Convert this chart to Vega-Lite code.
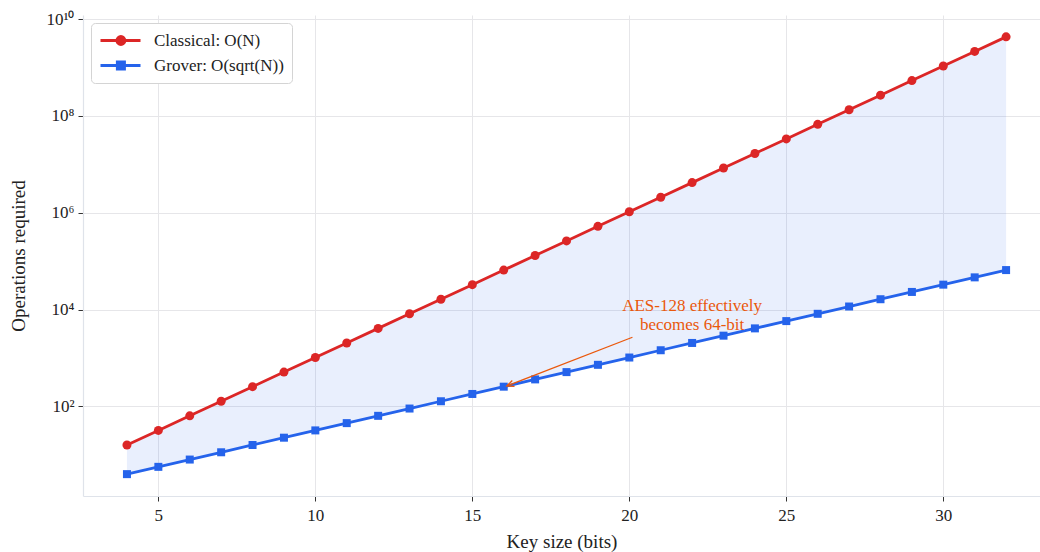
{
  "$schema": "https://vega.github.io/schema/vega-lite/v6.json",
  "width": 957,
  "height": 481,
  "autosize": {"type": "none"},
  "padding": {"left": 83, "top": 15, "right": 0, "bottom": 56},
  "background": "white",
  "config": {
    "font": "Liberation Serif",
    "view": {"stroke": null},
    "axis": {
      "domainColor": "#dfe3ea",
      "domainWidth": 1.2,
      "gridColor": "#e6e6e9",
      "gridWidth": 1,
      "tickColor": "#333333",
      "tickSize": 5,
      "tickWidth": 1,
      "labelFont": "Liberation Serif",
      "labelFontSize": 17,
      "labelColor": "#222222",
      "titleFont": "Liberation Serif",
      "titleFontSize": 19,
      "titleFontWeight": "normal",
      "titleColor": "#222222"
    }
  },
  "datasets": {
    "ops": [
      {"bits": 4, "classical": 16, "grover": 4},
      {"bits": 5, "classical": 32, "grover": 5.657},
      {"bits": 6, "classical": 64, "grover": 8},
      {"bits": 7, "classical": 128, "grover": 11.31},
      {"bits": 8, "classical": 256, "grover": 16},
      {"bits": 9, "classical": 512, "grover": 22.63},
      {"bits": 10, "classical": 1024, "grover": 32},
      {"bits": 11, "classical": 2048, "grover": 45.25},
      {"bits": 12, "classical": 4096, "grover": 64},
      {"bits": 13, "classical": 8192, "grover": 90.51},
      {"bits": 14, "classical": 16384, "grover": 128},
      {"bits": 15, "classical": 32768, "grover": 181.02},
      {"bits": 16, "classical": 65536, "grover": 256},
      {"bits": 17, "classical": 131072, "grover": 362.04},
      {"bits": 18, "classical": 262144, "grover": 512},
      {"bits": 19, "classical": 524288, "grover": 724.08},
      {"bits": 20, "classical": 1048576, "grover": 1024},
      {"bits": 21, "classical": 2097152, "grover": 1448.15},
      {"bits": 22, "classical": 4194304, "grover": 2048},
      {"bits": 23, "classical": 8388608, "grover": 2896.31},
      {"bits": 24, "classical": 16777216, "grover": 4096},
      {"bits": 25, "classical": 33554432, "grover": 5792.62},
      {"bits": 26, "classical": 67108864, "grover": 8192},
      {"bits": 27, "classical": 134217728, "grover": 11585.24},
      {"bits": 28, "classical": 268435456, "grover": 16384},
      {"bits": 29, "classical": 536870912, "grover": 23170.48},
      {"bits": 30, "classical": 1073741824, "grover": 32768},
      {"bits": 31, "classical": 2147483648, "grover": 46340.95},
      {"bits": 32, "classical": 4294967296, "grover": 65536}
    ],
    "note": [
      {"tx": 22, "ty": 11700, "label": ["AES-128 effectively", "becomes 64-bit"], "x0": 20.1, "y0": 2685, "x1": 16.1, "y1": 265}
    ]
  },
  "layer": [
    {
      "data": {"name": "ops"},
      "mark": {"type": "area", "color": "#2563eb", "opacity": 0.1},
      "encoding": {
        "x": {
          "field": "bits", "type": "quantitative",
          "scale": {"domain": [2.6, 33.08], "nice": false, "zero": false},
          "axis": {"values": [5, 10, 15, 20, 25, 30], "title": "Key size (bits)", "labelPadding": 6, "titlePadding": 9, "grid": true}
        },
        "y": {
          "field": "classical", "type": "quantitative",
          "scale": {"type": "log", "domain": [1.414, 1.215e10], "nice": false},
          "axis": {
            "values": [100, 10000, 1000000, 100000000, 10000000000],
            "labelExpr": "datum.value == 100 ? '10²' : datum.value == 10000 ? '10⁴' : datum.value == 1000000 ? '10⁶' : datum.value == 100000000 ? '10⁸' : '10¹⁰'",
            "title": "Operations required",
            "labelPadding": 4,
            "titlePadding": 17,
            "grid": true
          }
        },
        "y2": {"field": "grover"}
      }
    },
    {
      "data": {"name": "ops"},
      "transform": [{"fold": ["classical", "grover"], "as": ["key", "ops"]}],
      "mark": {"type": "line", "strokeWidth": 2.8},
      "encoding": {
        "x": {"field": "bits", "type": "quantitative"},
        "y": {"field": "ops", "type": "quantitative"},
        "color": {
          "field": "key", "type": "nominal",
          "scale": {"domain": ["classical", "grover"], "range": ["#dc2626", "#2563eb"]},
          "legend": {
            "title": null,
            "orient": "top-left",
            "offset": 8,
            "padding": 8,
            "cornerRadius": 4,
            "strokeColor": "#d4d4d4",
            "fillColor": "white",
            "symbolSize": 256,
            "symbolStrokeWidth": 2.8,
            "labelOffset": 36,
            "rowPadding": 5,
            "labelFontSize": 17,
            "labelFont": "Liberation Serif",
            "labelColor": "#222222",
            "labelExpr": "datum.value == 'classical' ? 'Classical: O(N)' : 'Grover: O(sqrt(N))'",
            "encode": {
              "symbols": {
                "update": {
                  "shape": {"signal": "datum.value == 'classical' ? 'M-1,0L4,0M1.05,0A0.5,0.5 0 1,0 2.05,0A0.5,0.5 0 1,0 1.05,0Z' : 'M-1,0L4,0M1.1,-0.45H2V0.45H1.1Z'"},
                  "fill": {"signal": "datum.value == 'classical' ? '#dc2626' : '#2563eb'"},
                  "stroke": {"signal": "datum.value == 'classical' ? '#dc2626' : '#2563eb'"},
                  "strokeWidth": {"value": 2.8},
                  "opacity": {"value": 1}
                }
              }
            }
          }
        }
      }
    },
    {
      "data": {"name": "ops"},
      "mark": {"type": "point", "filled": true, "opacity": 1, "shape": "circle", "size": 81, "color": "#dc2626"},
      "encoding": {
        "x": {"field": "bits", "type": "quantitative"},
        "y": {"field": "classical", "type": "quantitative"}
      }
    },
    {
      "data": {"name": "ops"},
      "mark": {"type": "point", "filled": true, "opacity": 1, "shape": "square", "size": 64, "color": "#2563eb"},
      "encoding": {
        "x": {"field": "bits", "type": "quantitative"},
        "y": {"field": "grover", "type": "quantitative"}
      }
    },
    {
      "data": {"name": "note"},
      "mark": {"type": "rule", "color": "#ea580c", "strokeWidth": 1.3},
      "encoding": {
        "x": {"field": "x0", "type": "quantitative"},
        "y": {"field": "y0", "type": "quantitative"},
        "x2": {"field": "x1"},
        "y2": {"field": "y1"}
      }
    },
    {
      "data": {"name": "note"},
      "mark": {"type": "point", "filled": false, "shape": "M-1,-0.45L0,0L-1,0.45", "size": 196, "angle": 159, "color": "#ea580c", "strokeWidth": 1.3, "opacity": 1},
      "encoding": {
        "x": {"field": "x1", "type": "quantitative"},
        "y": {"field": "y1", "type": "quantitative"}
      }
    },
    {
      "data": {"name": "note"},
      "mark": {"type": "text", "color": "#ea580c", "fontSize": 17, "lineHeight": 19, "align": "center", "baseline": "middle", "font": "Liberation Serif"},
      "encoding": {
        "x": {"field": "tx", "type": "quantitative"},
        "y": {"field": "ty", "type": "quantitative"},
        "text": {"field": "label"}
      }
    }
  ]
}
